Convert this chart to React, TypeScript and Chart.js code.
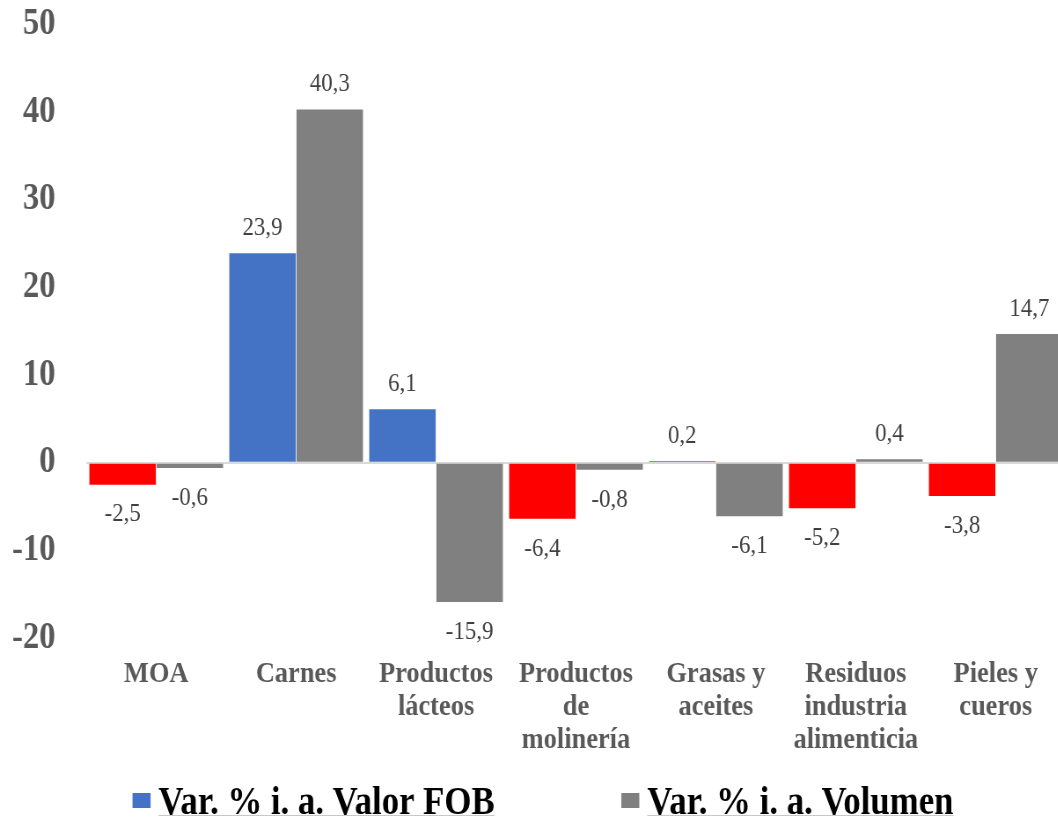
import React, { useEffect, useRef } from "react";
import { Chart, registerables } from "chart.js";

Chart.register(...registerables);

const categories: string[][] = [
  ["MOA"],
  ["Carnes"],
  ["Productos", "lácteos"],
  ["Productos", "de", "molinería"],
  ["Grasas y", "aceites"],
  ["Residuos", "industria", "alimenticia"],
  ["Pieles y", "cueros"],
];

const seriesNames = ["Var. % i. a. Valor FOB", "Var. % i. a. Volumen"];
const valorFOB = [-2.5, 23.9, 6.1, -6.4, 0.2, -5.2, -3.8];
const volumen = [-0.6, 40.3, -15.9, -0.8, -6.1, 0.4, 14.7];
const yTicks = [-20, -10, 0, 10, 20, 30, 40, 50];

const BLUE = "#4472C4";
const RED = "#FF0000";
const GRAY = "#808080";
const SERIF = '"Liberation Serif", "Times New Roman", serif';

const SCALE_X = 0.88;
const W = 1228;
const H = 817;

const fmt = (v: number) => v.toFixed(1).replace(".", ",");

const dataLabelPlugin = {
  id: "dataLabels",
  afterDatasetsDraw(chart: any) {
    const ctx = chart.ctx;
    ctx.save();
    ctx.font = `26px ${SERIF}`;
    ctx.fillStyle = "#404040";
    ctx.textAlign = "center";
    ctx.textBaseline = "middle";
    chart.data.datasets.forEach((ds: any, di: number) => {
      const meta = chart.getDatasetMeta(di);
      meta.data.forEach((el: any, i: number) => {
        const v = ds.data[i] as number;
        const y = v >= 0 ? el.y - 25 : el.y + 30;
        ctx.fillText(fmt(v), el.x, y);
      });
    });
    ctx.restore();
  },
};

const legendPlugin = {
  id: "bottomLegend",
  afterDraw(chart: any) {
    const ctx = chart.ctx;
    ctx.save();
    ctx.font = `bold 39.5px ${SERIF}`;
    const colors = [BLUE, GRAY];
    const boxW = 20.5;
    const boxH = 15;
    const gapBox = 9;
    const gapItems = 144;
    const widths = seriesNames.map((t) => ctx.measureText(t).width);
    const total =
      widths.reduce((a: number, b: number) => a + b, 0) +
      seriesNames.length * (boxW + gapBox) +
      gapItems * (seriesNames.length - 1);
    let x = chart.width / 2 - total / 2 + 3;
    const yText = 804;
    seriesNames.forEach((t, i) => {
      ctx.fillStyle = colors[i];
      ctx.fillRect(x, 793, boxW, boxH);
      x += boxW + gapBox;
      ctx.fillStyle = "#000000";
      ctx.textAlign = "left";
      ctx.textBaseline = "middle";
      ctx.fillText(t, x, yText);
      ctx.fillStyle = "#C8C8C8";
      ctx.fillRect(x, 815, widths[i], 1);
      x += widths[i] + gapItems;
    });
    ctx.restore();
  },
};

export default function App() {
  const ref = useRef<HTMLCanvasElement | null>(null);

  useEffect(() => {
    if (!ref.current) return;
    const chart = new Chart(ref.current, {
      type: "bar",
      data: {
        labels: categories,
        datasets: [
          {
            label: seriesNames[0],
            data: valorFOB,
            backgroundColor: (c: any) => (c.raw !== undefined && c.raw < 0 ? RED : BLUE),
            categoryPercentage: 0.96,
            barPercentage: 0.99,
          },
          {
            label: seriesNames[1],
            data: volumen,
            backgroundColor: GRAY,
            categoryPercentage: 0.96,
            barPercentage: 0.99,
          },
        ],
      },
      options: {
        responsive: false,
        animation: false,
        maintainAspectRatio: false,
        layout: { padding: { top: 24.5, right: 17, bottom: 59, left: 0 } },
        plugins: {
          legend: { display: false },
          tooltip: { enabled: false },
        },
        scales: {
          x: {
            grid: { display: false },
            border: { display: false },
            ticks: {
              autoSkip: false,
              maxRotation: 0,
              minRotation: 0,
              padding: 12,
              color: "#595959",
              font: { family: SERIF, size: 30, weight: "bold", lineHeight: 1.1 },
            },
            afterFit: (s: any) => {
              s.height = 120;
            },
          },
          y: {
            min: -20,
            max: 50,
            afterBuildTicks: (s: any) => {
              s.ticks = yTicks.map((v) => ({ value: v }));
            },
            grid: {
              drawTicks: false,
              lineWidth: 2,
              color: (c: any) => (c.tick && c.tick.value === 0 ? "#D9D9D9" : "rgba(0,0,0,0)"),
            },
            border: { display: false },
            ticks: {
              padding: 35,
              color: "#595959",
              font: { family: SERIF, size: 37, weight: "bold" },
              callback: (v: any) => String(v),
            },
            afterFit: (s: any) => {
              s.width = 98;
              s.paddingTop = 0;
              s.paddingBottom = 0;
            },
          },
        },
      },
      plugins: [dataLabelPlugin, legendPlugin],
    });
    return () => chart.destroy();
  }, []);

  return (
    <div
      style={{
        position: "absolute",
        left: 0,
        top: 0,
        width: 1058,
        height: 817,
        overflow: "hidden",
        background: "#ffffff",
      }}
    >
      <canvas
        ref={ref}
        width={W}
        height={H}
        style={{
          display: "block",
          width: W,
          height: H,
          transform: `scaleX(${SCALE_X})`,
          transformOrigin: "0 0",
        }}
      />
    </div>
  );
}
